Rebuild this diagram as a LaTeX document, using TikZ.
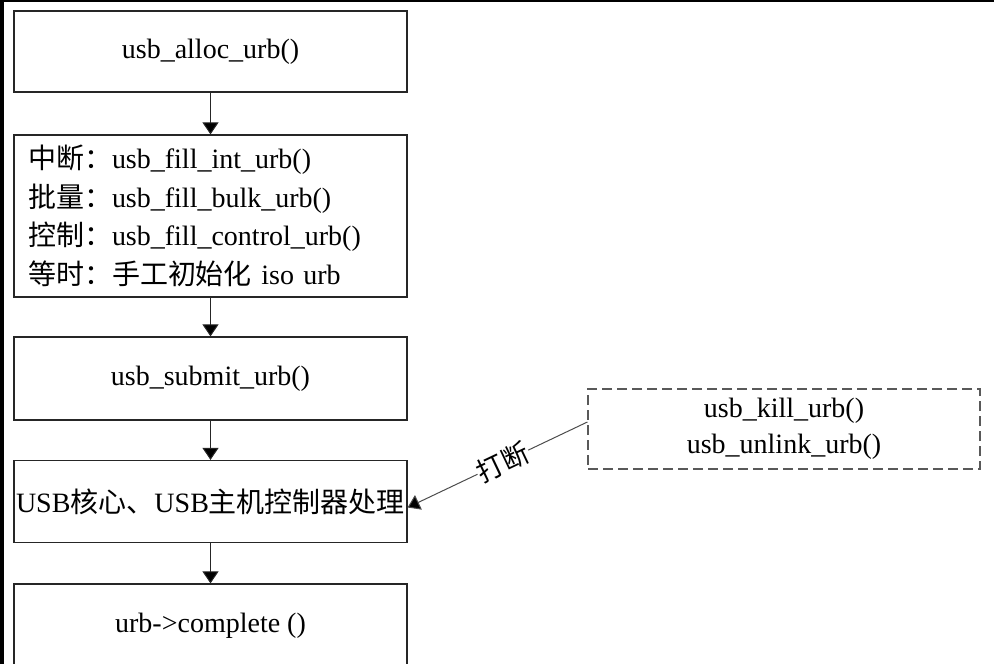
\documentclass[tikz,border=0pt]{standalone}
\usepackage{fontspec}
\setmainfont{Liberation Serif}
\newfontfamily\cjk{Noto Sans CJK SC}
\usetikzlibrary{arrows.meta}
\begin{document}
\begin{tikzpicture}[x=1pt,y=-1pt,
  box/.style={draw=black!85, line width=1.2pt, minimum width=393pt, inner sep=2pt, font=\fontsize{28}{38.5}\selectfont},
  dbox/.style={draw=black!65, line width=1.2pt, dash pattern=on 10pt off 5pt, minimum width=392pt, minimum height=80pt, align=center, font=\fontsize{28}{36}\selectfont},
  arr/.style={draw=black!85, line width=1pt, -{Triangle[length=12pt,width=16pt,fill=black]}},
  lbl/.style={font=\cjk\fontsize{27}{27}\selectfont, fill=white, inner sep=1pt}]
\useasboundingbox (0,0) rectangle (994,664);
\clip (0,0) rectangle (994,664);
\fill[black] (0,0) rectangle (4,664);
\fill[black] (0,0) rectangle (994,2);
\node[box, minimum height=81pt] (alloc) at (210.5,51.5) {usb\_alloc\_urb()};
\node[box, minimum height=162pt, align=left, text width=365pt] (fill) at (210.5,216)
  {{\cjk 中断：}usb\_fill\_int\_urb()\\
   {\cjk 批量：}usb\_fill\_bulk\_urb()\\
   {\cjk 控制：}usb\_fill\_control\_urb()\\
   {\cjk 等时：手工初始化} iso urb};
\node[box, minimum height=83pt] (submit) at (210.5,378.5) {usb\_submit\_urb()};
\node[box, minimum height=82pt] (core) at (210.5,501.5) {USB{\cjk 核心、}USB{\cjk 主机控制器处理}};
\node[box, minimum height=84pt] (complete) at (210.5,626) {urb->complete ()};
\node[dbox] (kill) at (784,429) {usb\_kill\_urb()\\usb\_unlink\_urb()};
\draw[arr] (alloc) -- (fill);
\draw[arr] (fill) -- (submit);
\draw[arr] (submit) -- (core);
\draw[arr] (core) -- (complete);
\draw[arr, draw=black!70] ([yshift=7pt]kill.west) -- node[lbl, sloped, pos=0.47] {打断} ([yshift=-6pt]core.east);
\end{tikzpicture}
\end{document}
